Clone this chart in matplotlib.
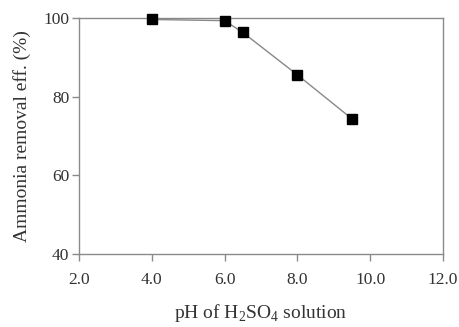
import matplotlib
matplotlib.use("Agg")
import matplotlib.pyplot as plt

ph = [4.0, 6.0, 6.5, 8.0, 9.5]
removal = [99.7, 99.4, 96.4, 85.6, 74.4]
xticks = [2.0, 4.0, 6.0, 8.0, 10.0, 12.0]
yticks = [40, 60, 80, 100]

plt.rcParams['font.family'] = ['Liberation Serif', 'DejaVu Serif']
plt.rcParams['mathtext.fontset'] = 'custom'
plt.rcParams['mathtext.rm'] = 'Liberation Serif'

fig = plt.figure(figsize=(4.59, 3.27), dpi=100)
ax = fig.add_axes([79/459, 1-254/327, (443-79)/459, (254-18.3)/327])

ax.plot(ph, removal, color='#888888', lw=1.0, marker='s', ms=7.5,
        mfc='black', mec='black', zorder=3, clip_on=False)

ax.set_xlim(2.0, 12.0)
ax.set_ylim(40, 100)
ax.set_xticks(xticks)
ax.set_xticklabels([f"{v:.1f}" for v in xticks])
ax.set_yticks(yticks)
ax.set_yticklabels([str(v) for v in yticks])

for s in ax.spines.values():
    s.set_color('#8a8a8a')
    s.set_linewidth(1.0)
ax.tick_params(axis='both', direction='out', length=5, width=1.0,
               color='#8a8a8a', labelsize=12.5, labelcolor='#333333')
ax.tick_params(axis='x', pad=8)
ax.tick_params(axis='y', pad=2)

ax.set_xlabel(r'pH of H$_2$SO$_4$ solution', fontsize=14, color='#333333', labelpad=10)
ax.set_ylabel('Ammonia removal eff. (%)', fontsize=14, color='#333333', labelpad=9)

fig.savefig('out.png', dpi=100)
